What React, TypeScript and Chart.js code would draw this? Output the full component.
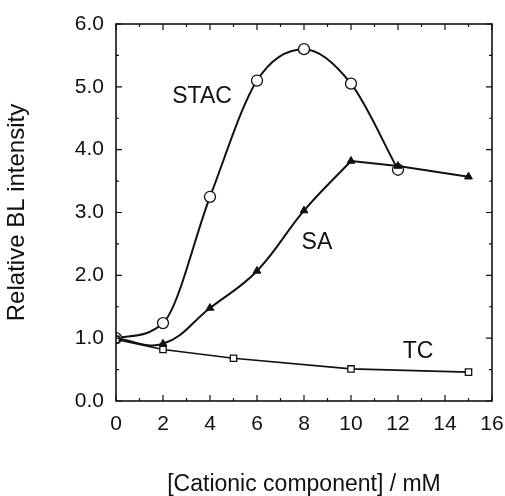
import React, { useEffect, useRef } from "react";
import { Chart, registerables } from "chart.js";

Chart.register(...registerables);

const xStac = [0, 2, 4, 6, 8, 10, 12];
const yStac = [1.0, 1.24, 3.25, 5.1, 5.6, 5.05, 3.68];
const xSa = [0, 2, 4, 6, 8, 10, 12, 15];
const ySa = [1.0, 0.91, 1.48, 2.07, 3.03, 3.82, 3.74, 3.57];
const xTc = [0, 2, 5, 10, 15];
const yTc = [0.98, 0.82, 0.68, 0.51, 0.46];
const seriesLabels = [
  { text: "STAC", x: 3.66, y: 4.84 },
  { text: "SA", x: 8.55, y: 2.52 },
  { text: "TC", x: 12.85, y: 0.78 },
];
const xTitle = "[Cationic component] / mM";
const yTitle = "Relative BL intensity";

const FONT = "'Liberation Sans', Arial, Helvetica, sans-serif";
const INK = "#111";

const pts = (xs: number[], ys: number[]) => xs.map((x, i) => ({ x, y: ys[i] }));

const framePlugin = {
  id: "frame",
  afterDatasetsDraw(chart: any) {
    const { ctx, chartArea: a, scales } = chart;
    const xs = scales.x;
    const ys = scales.y;
    ctx.save();
    ctx.strokeStyle = INK;
    ctx.lineWidth = 1.6;
    ctx.strokeRect(a.left, a.top, a.right - a.left, a.bottom - a.top);
    ctx.lineWidth = 1.2;
    ctx.beginPath();
    for (let v = 0; v <= 16; v += 1) {
      const px = xs.getPixelForValue(v);
      const len = v % 2 === 0 ? 6 : 3;
      ctx.moveTo(px, a.bottom);
      ctx.lineTo(px, a.bottom - len);
      ctx.moveTo(px, a.top);
      ctx.lineTo(px, a.top + len);
    }
    for (let v = 0; v <= 6.001; v += 0.5) {
      const py = ys.getPixelForValue(v);
      const len = Math.abs(v - Math.round(v)) < 0.01 ? 6 : 3;
      ctx.moveTo(a.left, py);
      ctx.lineTo(a.left + len, py);
      ctx.moveTo(a.right, py);
      ctx.lineTo(a.right - len, py);
    }
    ctx.stroke();
    ctx.fillStyle = INK;
    ctx.font = `23px ${FONT}`;
    ctx.textAlign = "center";
    ctx.textBaseline = "middle";
    for (const l of seriesLabels) {
      ctx.fillText(l.text, xs.getPixelForValue(l.x), ys.getPixelForValue(l.y));
    }
    ctx.restore();
  },
};

export default function App() {
  const ref = useRef<HTMLCanvasElement | null>(null);
  useEffect(() => {
    if (!ref.current) return;
    const saCurve = pts(xSa, ySa).slice(0, 6);
    const saTail = pts(xSa, ySa).slice(5);
    const chart = new Chart(ref.current, {
      type: "scatter",
      data: {
        datasets: [
          {
            label: "TC",
            data: pts(xTc, yTc),
            showLine: true,
            tension: 0,
            borderColor: INK,
            borderWidth: 1.7,
            pointStyle: "rect",
            pointRadius: 4.5,
            pointBackgroundColor: "#fff",
            pointBorderColor: INK,
            pointBorderWidth: 1.3,
          },
          {
            label: "SA curve",
            data: saCurve,
            showLine: true,
            tension: 0.4,
            borderColor: INK,
            borderWidth: 2,
            pointRadius: 0,
          },
          {
            label: "SA tail",
            data: saTail,
            showLine: true,
            tension: 0,
            borderColor: INK,
            borderWidth: 2,
            pointRadius: 0,
          },
          {
            label: "SA",
            data: pts(xSa, ySa),
            showLine: false,
            pointStyle: "triangle",
            pointRadius: 4.5,
            pointBackgroundColor: INK,
            pointBorderColor: INK,
            pointBorderWidth: 1,
          },
          {
            label: "STAC",
            data: pts(xStac, yStac),
            showLine: true,
            cubicInterpolationMode: "monotone",
            borderColor: INK,
            borderWidth: 2,
            pointStyle: "circle",
            pointRadius: 5.5,
            pointBackgroundColor: "#fff",
            pointBorderColor: INK,
            pointBorderWidth: 1.3,
          },
        ],
      },
      options: {
        animation: false,
        responsive: true,
        maintainAspectRatio: false,
        layout: { padding: { top: 24, right: 13, left: 0, bottom: 0 } },
        plugins: { legend: { display: false }, tooltip: { enabled: false } },
        scales: {
          x: {
            type: "linear",
            min: 0,
            max: 16,
            grid: { display: false, drawTicks: false },
            border: { display: false },
            ticks: { stepSize: 2, padding: 11, color: INK, font: { family: FONT, size: 21 } },
            title: { display: true, text: xTitle, color: INK, font: { family: FONT, size: 23, lineHeight: 1 }, padding: { top: 4, bottom: 0 } },
            afterFit: (s: any) => { s.height = 95; s.paddingLeft = 0; s.paddingRight = 0; },
          },
          y: {
            type: "linear",
            min: 0,
            max: 6,
            grid: { display: false, drawTicks: false },
            border: { display: false },
            ticks: { stepSize: 1, padding: 12, color: INK, font: { family: FONT, size: 21 }, callback: (v: any) => Number(v).toFixed(1) },
            title: { display: true, text: yTitle, color: INK, font: { family: FONT, size: 24 }, padding: { top: 3, bottom: 4 } },
            afterFit: (s: any) => { s.width = 116; s.paddingTop = 0; s.paddingBottom = 0; },
          },
        },
      },
      plugins: [framePlugin],
    } as any);
    return () => chart.destroy();
  }, []);
  return (
    <div style={{ position: "absolute", left: 0, top: 0, width: 505, height: 496, background: "#fff" }}>
      <canvas ref={ref} />
    </div>
  );
}
